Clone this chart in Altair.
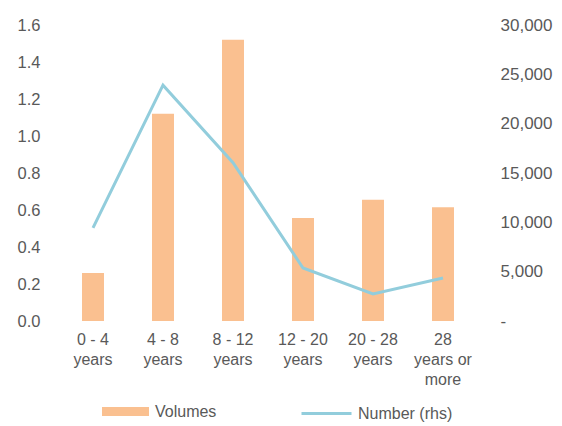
import altair as alt
import pandas as pd

categories = ["0 - 4 years", "4 - 8 years", "8 - 12 years", "12 - 20 years", "20 - 28 years", "28 years or more"]
label_lines = [["0 - 4", "years"], ["4 - 8", "years"], ["8 - 12", "years"], ["12 - 20", "years"],
               ["20 - 28", "years"], ["28", "years or", "more"]]
volumes = [0.26, 1.12, 1.52, 0.557, 0.655, 0.615]
numbers = [9430, 23900, 16050, 5370, 2740, 4360]

df = pd.DataFrame({"cat": categories, "vol": volumes, "num": numbers,
                   "s1": "Volumes", "s2": "Number (rhs)"})

FONT = "Liberation Sans"
GRAY = "#595959"
ORANGE = "#FAC090"
BLUE = "#92CDDC"

label_expr = ""
for c, lines in zip(categories, label_lines):
    arr = "[" + ",".join("'" + l + "'" for l in lines) + "]"
    label_expr += f"datum.value == '{c}' ? {arr} : "
label_expr += "datum.value"

x = alt.X("cat:N", sort=categories, title=None,
          scale=alt.Scale(paddingInner=0.686, paddingOuter=0.343),
          axis=alt.Axis(labelExpr=label_expr, labelAngle=0, domain=False, ticks=False,
                        labelPadding=10, labelLineHeight=20, labelFont=FONT,
                        labelFontSize=16, labelColor=GRAY, labelBaseline="top"))

bars = alt.Chart(df).mark_bar().encode(
    x=x,
    y=alt.Y("vol:Q", title=None,
            scale=alt.Scale(domain=[0, 1.6], nice=False),
            axis=alt.Axis(values=[0, 0.2, 0.4, 0.6, 0.8, 1.0, 1.2, 1.4, 1.6], format=".1f",
                          domain=False, ticks=False, grid=False, labelPadding=18,
                          labelFont=FONT, labelFontSize=16.5, labelColor=GRAY, orient="left")),
    fill=alt.Fill("s1:N", scale=alt.Scale(domain=["Volumes"], range=[ORANGE]),
                  legend=alt.Legend(title=None, orient="none", legendX=44, legendY=363,
                                    symbolType="M-1,-0.19H1V0.19H-1Z", symbolSize=2209,
                                    symbolStrokeWidth=0, labelFont=FONT, labelFontSize=16,
                                    labelColor=GRAY, labelOffset=6, padding=0)),
)

line = alt.Chart(df).mark_line(strokeWidth=3).encode(
    x=x,
    y=alt.Y("num:Q", title=None,
            scale=alt.Scale(domain=[0, 30000], nice=False),
            axis=alt.Axis(values=[0, 5000, 10000, 15000, 20000, 25000, 30000],
                          labelExpr="datum.value == 0 ? '-' : format(datum.value, ',.0f')",
                          domain=False, ticks=False, grid=False, labelPadding=22,
                          labelFont=FONT, labelFontSize=17, labelColor=GRAY, orient="right")),
    stroke=alt.Stroke("s2:N", scale=alt.Scale(domain=["Number (rhs)"], range=[BLUE]),
                      legend=alt.Legend(title=None, orient="none", legendX=242, legendY=362,
                                        symbolType="stroke", symbolSize=2500,
                                        symbolStrokeWidth=3, labelFont=FONT, labelFontSize=16,
                                        labelColor=GRAY, labelOffset=5, padding=0)),
)

chart = alt.layer(bars, line).resolve_scale(y="independent", fill="independent",
                                            stroke="independent").properties(
    width=420, height=296,
    autosize=alt.AutoSizeParams(type="none"),
    padding={"left": 50, "top": 17, "right": 76, "bottom": 101},
).configure_view(stroke=None)

chart.save("out.html", embed_options={"renderer": "svg", "actions": False})
